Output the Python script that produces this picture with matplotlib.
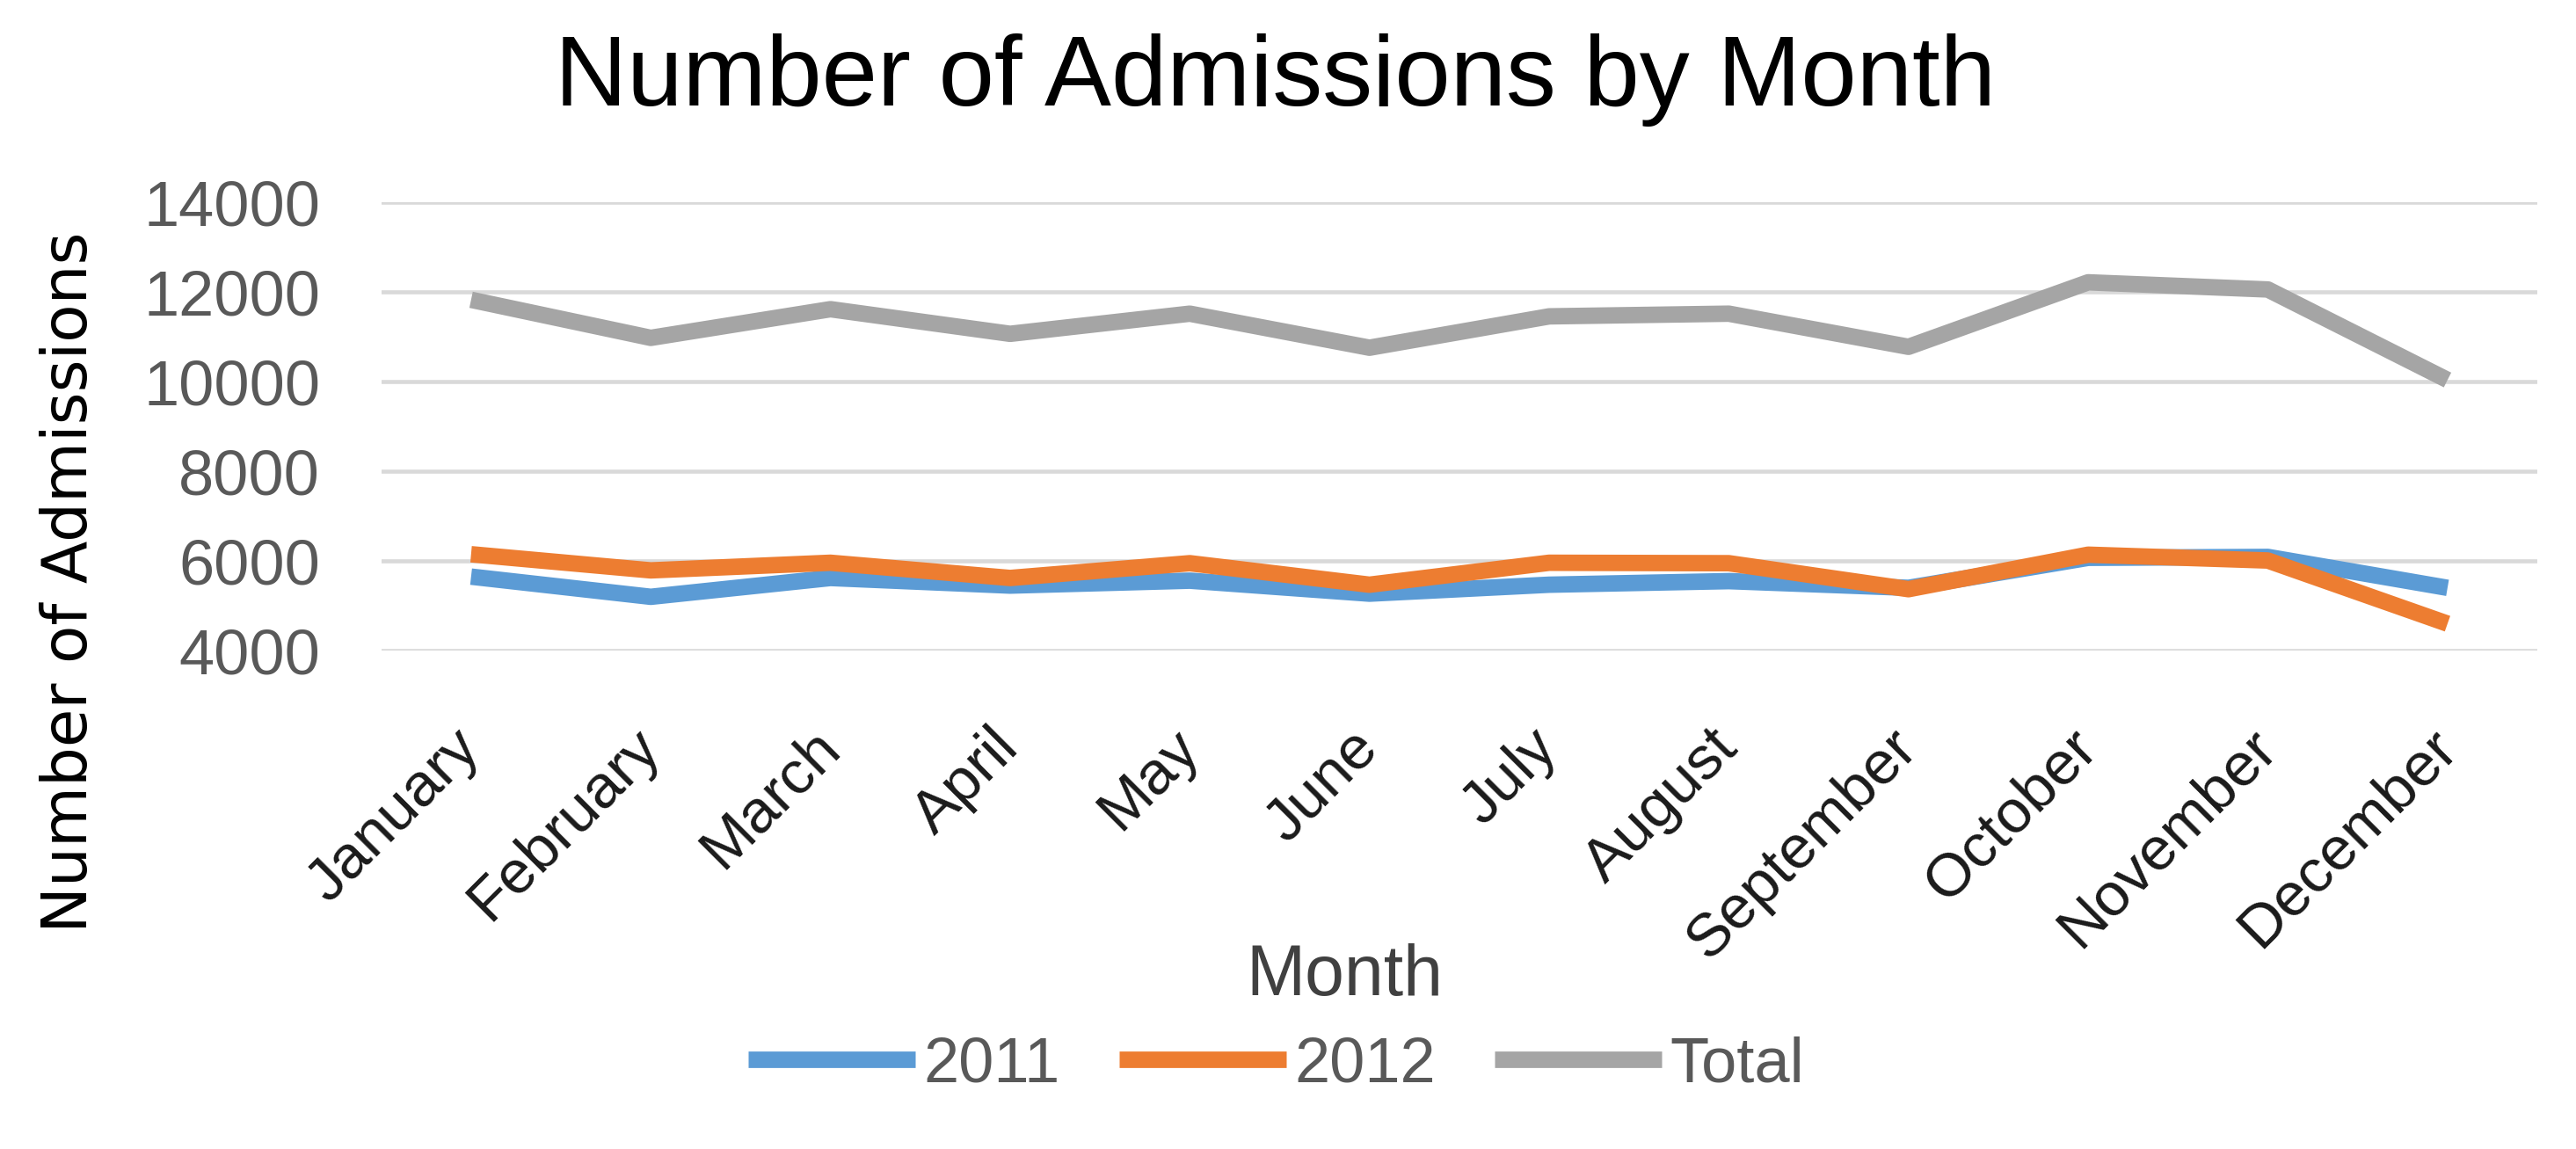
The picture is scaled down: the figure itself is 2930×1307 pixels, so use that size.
import matplotlib
matplotlib.use('Agg')
from matplotlib import pyplot as plt

# data
months = ['January', 'February', 'March', 'April', 'May', 'June', 'July',
          'August', 'September', 'October', 'November', 'December']
admissions_2011 = [5650, 5200, 5620, 5450, 5560, 5270, 5470, 5550, 5400, 6070, 6090, 5400]
admissions_2012 = [6150, 5790, 5960, 5620, 5950, 5470, 5960, 5950, 5370, 6140, 6010, 4600]
admissions_total = [11830, 10980, 11620, 11070, 11520, 10760, 11460, 11520, 10780, 12220, 12060, 10040]
y_ticks = [4000, 6000, 8000, 10000, 12000, 14000]


def main():
    plt.rcParams['font.family'] = ['Liberation Sans', 'DejaVu Sans']

    fig = plt.figure(figsize=(29.3, 13.07), dpi=100)
    ax = fig.add_axes([0.148, 0.4338, 0.837, 0.3899])

    x = list(range(len(months)))
    series = [
        ('2011', admissions_2011, '#5B9BD5'),
        ('2012', admissions_2012, '#ED7D31'),
        ('Total', admissions_total, '#A5A5A5'),
    ]
    for label, values, color in series:
        ax.plot(x, values, color=color, linewidth=13.5, label=label,
                solid_joinstyle='round', solid_capstyle='butt')

    ax.set_xlim(-0.5, len(months) - 0.5)
    ax.set_ylim(4000, 14000)
    ax.set_yticks(y_ticks)
    ax.set_yticklabels([str(v) for v in y_ticks], fontsize=52, color='#595959')
    ax.set_xticks(x)
    ax.set_xticklabels(months, fontsize=50, color='#1a1a1a', rotation=45,
                       ha='right', va='center', rotation_mode='anchor')
    ax.tick_params(axis='x', length=0, pad=72)
    ax.tick_params(axis='y', length=0, pad=50)

    ax.yaxis.grid(True, color='#d9d9d9', linewidth=3.3)
    ax.set_axisbelow(True)
    for spine in ax.spines.values():
        spine.set_visible(False)

    # titles
    fig.text(0.495, 0.908, 'Number of Admissions by Month', fontsize=82,
             ha='center', va='baseline', color='black')
    fig.text(0.522, 0.134, 'Month', fontsize=58, ha='center', va='baseline',
             color='#404040')
    fig.text(0.0273, 0.4935, 'Number of Admissions', fontsize=51,
             family='DejaVu Sans', rotation=90, ha='center', va='center',
             color='black')

    leg = fig.legend(loc='center', bbox_to_anchor=(0.4955, 0.0727), ncol=3,
                     frameon=False, fontsize=52, handlelength=2.63,
                     handletextpad=0.13, columnspacing=0.93)
    for text in leg.get_texts():
        text.set_color('#595959')

    fig.savefig('out.png', dpi=100)


if __name__ == '__main__':
    main()
